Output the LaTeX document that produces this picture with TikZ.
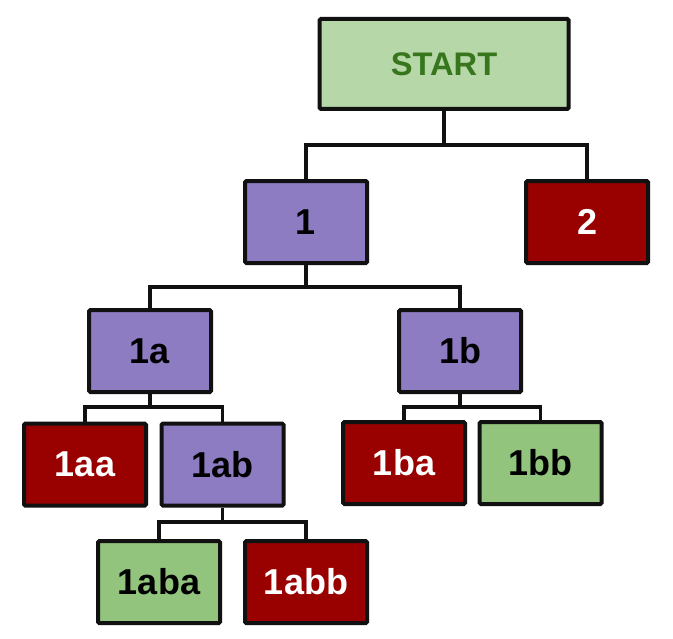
\documentclass[tikz,border=0pt]{standalone}
\usepackage{fontspec}
\setmainfont{Liberation Sans}
\definecolor{startfill}{HTML}{B6D7A8}
\definecolor{starttext}{HTML}{38761D}
\definecolor{purp}{HTML}{8E7CC3}
\definecolor{darkred}{HTML}{990000}
\definecolor{lgreen}{HTML}{93C47D}
\definecolor{edge}{HTML}{111111}
\tikzset{
  box/.style={draw=edge, line width=3pt, rounded corners=1pt, minimum width=91.5pt, minimum height=61.5pt, inner sep=0pt, font=\fontsize{27}{32}\selectfont\bfseries},
  purplebox/.style={box, fill=purp, text=black},
  redbox/.style={box, fill=darkred, text=white},
  greenbox/.style={box, fill=lgreen, text=black},
  startbox/.style={box, fill=startfill, text=starttext, minimum width=186.75pt, minimum height=67.5pt, font=\fontsize{24.5}{29}\selectfont\bfseries},
  link/.style={draw=edge, line width=2.7pt}
}
\begin{document}
\begin{tikzpicture}[x=0.75pt,y=-0.75pt]
\useasboundingbox (0,0) rectangle (673,638);
\node[startbox] (S) at (444,64) {START};
\node[purplebox] (n1) at (306,222) {1};
\node[redbox] (n2) at (587,222) {2};
\node[purplebox] (n1a) at (150,351) {1a};
\node[purplebox] (n1b) at (460,351) {1b};
\node[redbox] (n1aa) at (85,464.5) {1aa};
\node[purplebox] (n1ab) at (222.5,464.5) {1ab};
\node[redbox] (n1ba) at (404,463) {1ba};
\node[greenbox] (n1bb) at (540.5,463) {1bb};
\node[greenbox] (n1aba) at (159,582) {1aba};
\node[redbox] (n1abb) at (306,582) {1abb};
\coordinate (j0) at (444,145);
\coordinate (j1) at (306,287);
\coordinate (j2) at (150,407);
\coordinate (j3) at (460,407);
\coordinate (j4) at (222.5,522);
\draw[link] (S.south) -- (j0);
\draw[link] (n1.north) |- (j0) -| (n2.north);
\draw[link] (n1.south) -- (j1);
\draw[link] (n1a.north) |- (j1) -| (n1b.north);
\draw[link] (n1a.south) -- (j2);
\draw[link] (n1aa.north) |- (j2) -| (n1ab.north);
\draw[link] (n1b.south) -- (j3);
\draw[link] (n1ba.north) |- (j3) -| (n1bb.north);
\draw[link] (n1ab.south) -- (j4);
\draw[link] (n1aba.north) |- (j4) -| (n1abb.north);
\end{tikzpicture}
\end{document}
